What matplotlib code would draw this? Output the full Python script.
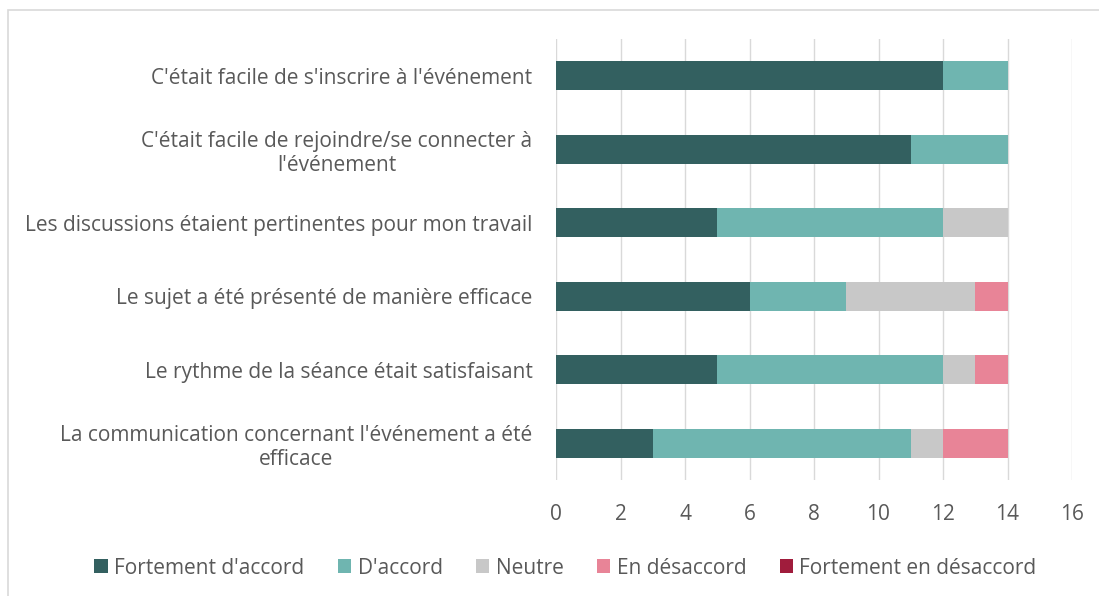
import numpy as np
import matplotlib
matplotlib.use('Agg')
from matplotlib import pyplot as plt
from matplotlib.patches import Rectangle

categories = [
    "C'était facile de s'inscrire à l'événement",
    "C'était facile de rejoindre/se connecter à\nl'événement",
    "Les discussions étaient pertinentes pour mon travail",
    "Le sujet a été présenté de manière efficace",
    "Le rythme de la séance était satisfaisant",
    "La communication concernant l'événement a été\nefficace",
]
series_names = ["Fortement d'accord", "D'accord", "Neutre",
                "En désaccord", "Fortement en désaccord"]
fortement_accord = [12, 11, 5, 6, 5, 3]
accord = [2, 3, 7, 3, 7, 8]
neutre = [0, 0, 2, 4, 1, 1]
desaccord = [0, 0, 0, 1, 1, 2]
fortement_desaccord = [0, 0, 0, 0, 0, 0]
x_ticks = [0, 2, 4, 6, 8, 10, 12, 14, 16]

colors = ['#336060', '#6fb5b0', '#c8c8c8', '#e88497', '#a01c3c']
text_col = '#595959'
fs = 15

plt.rcParams['font.family'] = ['Open Sans', 'DejaVu Sans']

fig = plt.figure(figsize=(10.99, 5.96), dpi=100)
ax = fig.add_axes([556 / 1099, 1 - 480 / 596, (1072 - 556) / 1099, (480 - 39) / 596])

data = [fortement_accord, accord, neutre, desaccord, fortement_desaccord]
y = np.arange(len(categories))
left = np.zeros(len(categories))
for vals, name, c in zip(data, series_names, colors):
    ax.barh(y, vals, left=left, height=0.4, color=c, label=name, zorder=3)
    left += np.array(vals)

ax.set_ylim(len(categories) - 0.5, -0.5)
ax.set_xlim(0, 16)
ax.set_xticks(x_ticks)
ax.set_yticks(y)
ax.set_yticklabels(categories, fontsize=fs, color=text_col, linespacing=1.2)
ax.tick_params(axis='x', labelsize=fs, labelcolor=text_col, length=0, pad=17)
ax.tick_params(axis='y', length=0, pad=17)
for lbl in ax.get_yticklabels():
    lbl.set_multialignment('center')
ax.grid(axis='x', color='#d9d9d9', linewidth=1, zorder=0)
for s in ax.spines.values():
    s.set_visible(False)

fig.legend(loc='center', bbox_to_anchor=(0.5 + 16 / 1099, 1 - 568 / 596), ncol=5,
           frameon=False, fontsize=fs, labelcolor=text_col,
           handlelength=0.65, handleheight=0.65, handletextpad=0.3,
           columnspacing=1.6)

fig.patches.append(Rectangle((8 / 1099, -0.1), 1.2, 1.1 - 10 / 596,
                             transform=fig.transFigure, fill=False,
                             edgecolor='#d9d9d9', linewidth=1.2))

fig.savefig('out.png', dpi=100)
